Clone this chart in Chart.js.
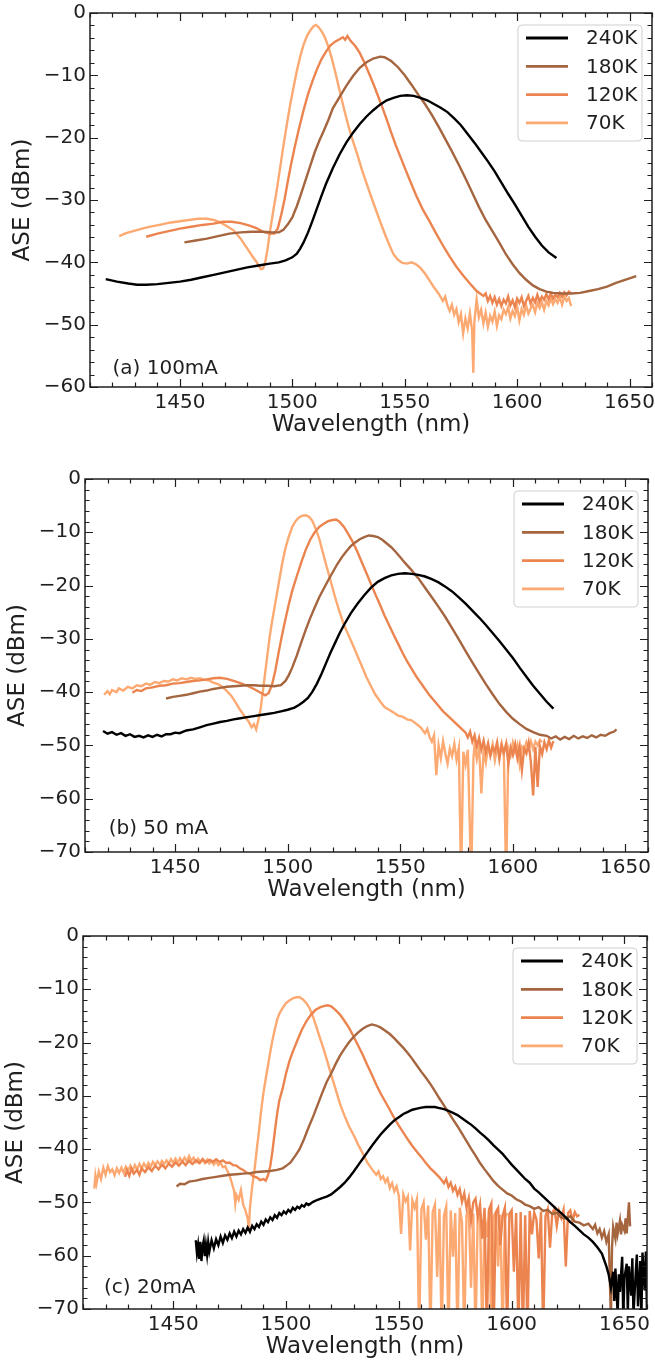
<!DOCTYPE html>
<html>
<head>
<meta charset="utf-8">
<script src="https://cdn.jsdelivr.net/npm/chart.js@4.4.1/dist/chart.umd.min.js"></script>
<style>
  html, body { margin: 0; padding: 0; background: #fff; }
  canvas { position: absolute; left: 0; }
</style>
</head>
<body>
<canvas id="panelA" width="655" height="455" style="top:0"></canvas>
<canvas id="panelB" width="655" height="455" style="top:455px"></canvas>
<canvas id="panelC" width="655" height="453" style="top:910px"></canvas>
<script>
// legend labels and line colours (240K .. 70K)
const temps = ['240K', '180K', '120K', '70K'];
const colors = ['#000000', '#a5653f', '#ec8450', '#fca972'];
const xTicks = [1450, 1500, 1550, 1600, 1650];

// [wavelength nm, ASE dBm]
// (a) 100 mA
const a240 = [[1417,-42.7],[1422,-43.1],[1427,-43.4],[1431,-43.6],[1435,-43.6],[1440,-43.5],[1445,-43.3],[1450,-43.1],[1455,-42.8],[1460,-42.4],[1465,-42.0],[1470,-41.6],[1475,-41.2],[1480,-40.8],[1485,-40.5],[1490,-40.2],[1494,-40.0],[1497,-39.7],[1500,-39.2],[1502,-38.6],[1503.5,-37.8],[1505,-36.8],[1507,-35.2],[1509,-33.3],[1511,-31.3],[1513,-29.3],[1515,-27.4],[1518,-24.9],[1521,-22.7],[1524,-20.8],[1527,-19.2],[1530,-17.8],[1533,-16.6],[1536,-15.6],[1539,-14.7],[1542,-14.0],[1545,-13.6],[1548,-13.3],[1551,-13.2],[1554,-13.3],[1557,-13.6],[1560,-14.0],[1563,-14.6],[1566,-15.2],[1569,-15.9],[1572,-16.9],[1575,-18.0],[1578,-19.4],[1581,-20.8],[1584,-22.3],[1587,-23.8],[1590,-25.4],[1593,-27.2],[1596,-29.0],[1599,-30.7],[1602,-32.5],[1605,-34.3],[1608,-35.9],[1611,-37.3],[1614,-38.4],[1617.5,-39.3]];
const a180 = [[1452,-36.8],[1457,-36.5],[1462,-36.2],[1467,-35.8],[1472,-35.4],[1477,-35.2],[1482,-35.1],[1487,-35.1],[1491,-35.2],[1494,-35.2],[1496,-34.8],[1498,-33.9],[1500,-32.8],[1502,-31.0],[1504,-28.9],[1506,-26.7],[1508,-24.5],[1510,-22.3],[1512,-20.5],[1514,-18.9],[1516,-17.2],[1518,-15.3],[1521,-13.5],[1524,-11.7],[1527,-10.1],[1530,-8.8],[1533,-7.9],[1536,-7.3],[1539,-7.0],[1541,-7.1],[1544,-7.7],[1547,-8.7],[1550,-10.0],[1553,-11.5],[1556,-13.1],[1559,-14.6],[1562,-16.3],[1565,-18.2],[1568,-20.2],[1571,-22.2],[1574,-24.3],[1577,-26.5],[1580,-28.8],[1583,-31.1],[1586,-33.2],[1589,-35.0],[1592,-36.8],[1595,-38.7],[1598,-40.3],[1601,-41.7],[1604,-42.8],[1607,-43.7],[1610,-44.3],[1613,-44.7],[1616,-44.9],[1620,-45.0],[1624,-45.0],[1628,-44.9],[1632,-44.6],[1636,-44.3],[1640,-43.9],[1644,-43.3],[1648,-42.8],[1653,-42.2]];
const a120 = [[1435,-35.9],[1440,-35.4],[1445,-35.0],[1450,-34.6],[1455,-34.3],[1460,-34.0],[1465,-33.8],[1469,-33.5],[1473,-33.5],[1477,-33.7],[1481,-34.1],[1484,-34.5],[1487,-35.1],[1490,-35.4],[1492,-35.4],[1493.5,-34.6],[1495,-32.5],[1496.5,-30.0],[1498,-27.0],[1499.5,-24.2],[1501,-21.6],[1503,-18.5],[1505,-15.6],[1507,-13.0],[1509,-10.9],[1511,-9.0],[1513,-7.4],[1515,-6.2],[1517,-5.2],[1519,-4.6],[1521,-4.2],[1522.5,-3.9],[1523.5,-4.3],[1524.5,-3.7],[1526,-4.5],[1528,-5.3],[1530,-6.4],[1532,-7.9],[1534,-9.6],[1536,-11.3],[1538,-13.2],[1540,-15.1],[1542,-17.1],[1544,-19.2],[1546,-21.2],[1548,-23.0],[1550,-24.8],[1552,-26.6],[1555,-29.2],[1558,-31.5],[1561,-33.4],[1564,-35.4],[1567,-37.3],[1570,-39.1],[1573,-40.7],[1576,-42.1],[1579,-43.4],[1582,-44.6],[1585,-45.4],[1586,-45.0],[1587,-46.2],[1588,-45.4],[1589,-46.5],[1590,-45.6],[1591,-46.8],[1592,-45.9],[1593,-47.0],[1594,-46.0],[1595,-46.6],[1596,-45.5],[1597,-46.9],[1598,-46.1],[1599,-47.2],[1600,-45.8],[1601,-46.5],[1602,-45.6],[1603,-47.0],[1604,-46.2],[1605,-45.4],[1606,-46.6],[1607,-45.7],[1608,-46.4],[1609,-45.2],[1610,-46.3],[1611,-45.5],[1612,-46.0],[1613,-45.1],[1614,-45.9],[1615,-45.0],[1616,-45.8],[1617,-45.2],[1618,-45.6],[1619,-44.9],[1620,-45.5],[1621,-44.8],[1622,-45.3],[1623,-44.7],[1624,-45.0]];
const a70 = [[1423,-35.8],[1426,-35.3],[1430,-34.9],[1434,-34.5],[1438,-34.2],[1442,-33.9],[1446,-33.6],[1450,-33.4],[1454,-33.2],[1458,-33.0],[1462,-33.0],[1465,-33.2],[1468,-33.6],[1471,-34.2],[1474,-34.9],[1477,-36.2],[1480,-37.8],[1482,-38.9],[1484,-39.9],[1486,-41.1],[1487,-41.0],[1488,-39.9],[1489,-37.8],[1490,-35.2],[1491.5,-31.8],[1493,-28.6],[1494.5,-25.0],[1496,-21.4],[1497.5,-18.0],[1499,-14.8],[1500.5,-12.0],[1502,-9.3],[1503.5,-7.0],[1505,-5.1],[1506.5,-3.7],[1508,-2.8],[1509.5,-2.1],[1510.5,-1.9],[1511.5,-2.2],[1513,-2.9],[1514.5,-3.9],[1516,-5.4],[1517.5,-7.2],[1519,-9.3],[1521,-12.4],[1523,-15.4],[1525,-18.2],[1527,-20.6],[1529,-22.8],[1531,-25.2],[1533,-27.3],[1535,-29.4],[1537,-31.4],[1539,-33.4],[1541,-35.3],[1543,-37.1],[1545,-38.7],[1547,-39.6],[1549,-40.1],[1551,-40.2],[1553,-40.0],[1555,-40.3],[1557,-40.9],[1559,-41.8],[1561,-42.9],[1563,-44.0],[1565,-45.0],[1567,-46.2],[1568,-45.5],[1569,-46.9],[1570,-47.8],[1571,-46.8],[1572,-48.4],[1573,-47.5],[1574,-49.6],[1575,-48.3],[1576,-51.4],[1577,-49.0],[1578,-50.6],[1579,-48.2],[1580,-51.0],[1580.5,-57.7],[1581,-49.5],[1582,-46.0],[1583,-48.8],[1584,-47.6],[1585,-49.8],[1586,-48.1],[1587,-50.3],[1588,-48.6],[1589,-49.5],[1590,-47.9],[1591,-50.2],[1592,-48.5],[1593,-49.1],[1594,-47.6],[1595,-48.3],[1596,-47.2],[1597,-49.0],[1598,-47.8],[1599,-48.6],[1600,-47.1],[1601,-49.3],[1602,-47.5],[1603,-48.4],[1604,-46.9],[1605,-48.2],[1606,-47.4],[1607,-46.8],[1608,-48.0],[1609,-46.5],[1610,-47.3],[1611,-46.4],[1612,-47.6],[1613,-46.2],[1614,-46.9],[1615,-45.8],[1616,-46.7],[1617,-45.9],[1618,-46.5],[1619,-45.6],[1620,-46.8],[1621,-45.5],[1622,-46.2],[1623,-45.7],[1624,-47.0]];

// (b) 50 mA
const b240 = [[1418,-47.3],[1420,-47.8],[1422,-47.5],[1424,-48.0],[1426,-47.7],[1428,-48.2],[1430,-47.9],[1432,-48.4],[1434,-48.2],[1436,-48.5],[1438,-48.1],[1440,-48.4],[1442,-48.0],[1444,-48.3],[1446,-47.9],[1448,-47.9],[1450,-47.6],[1452,-47.7],[1455,-47.2],[1458,-47.0],[1461,-46.6],[1464,-46.2],[1467,-45.9],[1470,-45.6],[1473,-45.4],[1476,-45.1],[1479,-44.9],[1482,-44.7],[1485,-44.5],[1488,-44.3],[1491,-44.1],[1494,-43.9],[1497,-43.6],[1500,-43.3],[1503,-42.9],[1505,-42.4],[1507,-41.8],[1509,-41.1],[1511,-39.9],[1513,-38.4],[1515,-36.6],[1517,-34.6],[1519,-32.6],[1521,-30.8],[1523,-29.0],[1525,-27.4],[1528,-25.2],[1531,-23.4],[1534,-21.8],[1537,-20.4],[1540,-19.3],[1543,-18.6],[1546,-18.1],[1549,-17.8],[1552,-17.7],[1555,-17.8],[1558,-18.0],[1561,-18.3],[1564,-18.8],[1567,-19.4],[1570,-20.2],[1573,-21.1],[1576,-22.2],[1579,-23.4],[1582,-24.7],[1585,-26.0],[1588,-27.4],[1591,-28.9],[1594,-30.4],[1597,-32.0],[1600,-33.6],[1603,-35.4],[1606,-37.1],[1609,-38.8],[1612,-40.3],[1615,-41.8],[1618,-43.1]];
const b180 = [[1446,-41.2],[1449,-40.9],[1452,-40.7],[1455,-40.5],[1458,-40.2],[1461,-39.9],[1464,-39.7],[1467,-39.4],[1470,-39.2],[1473,-39.0],[1476,-38.9],[1479,-38.8],[1482,-38.7],[1485,-38.7],[1488,-38.8],[1491,-38.8],[1494,-38.9],[1497,-38.7],[1499,-37.9],[1500.5,-36.8],[1502,-35.4],[1504,-33.2],[1506,-30.7],[1508,-28.3],[1510,-26.1],[1512,-24.1],[1514,-22.2],[1516,-20.6],[1518,-19.0],[1520,-17.5],[1522,-16.0],[1524,-14.7],[1526,-13.6],[1528,-12.6],[1530,-11.9],[1532,-11.3],[1534,-10.9],[1536,-10.6],[1538,-10.7],[1540,-10.9],[1542,-11.4],[1544,-12.1],[1546,-12.8],[1548,-13.7],[1550,-14.7],[1552,-15.7],[1555,-17.1],[1558,-18.6],[1561,-20.4],[1564,-22.2],[1567,-24.0],[1570,-25.9],[1573,-28.0],[1576,-30.1],[1579,-32.3],[1582,-34.4],[1585,-36.5],[1588,-38.5],[1591,-40.4],[1594,-42.2],[1597,-43.7],[1600,-45.0],[1603,-46.0],[1606,-46.9],[1609,-47.5],[1612,-48.0],[1615,-48.2],[1617,-48.7],[1619,-48.3],[1621,-48.9],[1623,-48.4],[1625,-48.8],[1627,-48.2],[1629,-48.7],[1631,-48.3],[1633,-48.6],[1635,-48.1],[1637,-48.5],[1639,-48.0],[1641,-48.2],[1643,-47.7],[1645,-47.4],[1646,-47.0]];
const b120 = [[1431,-40.1],[1433,-39.6],[1435,-39.8],[1437,-39.3],[1440,-39.1],[1443,-38.8],[1446,-38.7],[1449,-38.4],[1452,-38.3],[1455,-38.1],[1458,-37.9],[1461,-37.8],[1464,-37.6],[1467,-37.4],[1470,-37.3],[1473,-37.5],[1476,-37.9],[1479,-38.3],[1482,-38.8],[1485,-39.4],[1488,-40.1],[1490,-40.6],[1491.5,-40.2],[1493,-38.7],[1494.5,-36.0],[1496,-32.5],[1497.5,-29.3],[1499,-26.3],[1500.5,-23.5],[1502,-21.0],[1504,-18.3],[1506,-15.7],[1508,-13.3],[1510,-11.4],[1512,-10.0],[1514,-9.0],[1516,-8.4],[1518,-7.9],[1520,-7.7],[1521.5,-7.6],[1523,-8.0],[1525,-9.0],[1527,-10.4],[1529,-11.9],[1531,-13.7],[1533,-15.7],[1535,-17.7],[1537,-19.7],[1539,-21.7],[1541,-23.6],[1543,-25.6],[1545,-27.4],[1547,-29.2],[1549,-30.9],[1551,-32.6],[1553,-34.2],[1555,-35.6],[1557,-37.0],[1560,-38.8],[1563,-40.6],[1566,-42.1],[1569,-43.6],[1572,-44.8],[1575,-46.0],[1577,-46.8],[1579,-47.6],[1580,-48.5],[1581,-47.4],[1582,-49.3],[1583,-48.1],[1584,-50.2],[1585,-48.6],[1586,-50.8],[1587,-49.1],[1588,-51.3],[1589,-49.6],[1590,-52.0],[1591,-50.3],[1592,-51.1],[1593,-49.4],[1594,-52.6],[1595,-50.0],[1596,-51.4],[1597,-49.7],[1598,-53.5],[1599,-50.4],[1600,-51.8],[1601,-49.8],[1602,-52.4],[1603,-50.2],[1604,-54.6],[1605,-50.6],[1606,-51.5],[1607,-49.5],[1608,-53.2],[1609,-59.4],[1610,-50.3],[1611,-57.8],[1612,-50.1],[1613,-51.6],[1614,-49.4],[1615,-50.7],[1616,-49.0],[1617,-50.4],[1618,-49.2]];
const b70 = [[1418.5,-40.5],[1420,-39.8],[1421,-40.4],[1422,-39.6],[1424,-40.0],[1425,-39.3],[1427,-39.7],[1429,-39.0],[1431,-39.3],[1433,-38.7],[1435,-38.9],[1437,-38.4],[1439,-38.6],[1441,-38.1],[1443,-38.3],[1445,-37.9],[1447,-38.0],[1449,-37.6],[1451,-37.8],[1453,-37.4],[1455,-37.6],[1457,-37.3],[1459,-37.5],[1461,-37.4],[1463,-37.7],[1465,-37.8],[1467,-38.2],[1469,-38.5],[1471,-39.0],[1473,-39.8],[1475,-40.7],[1477,-42.0],[1479,-43.4],[1481,-44.6],[1482.5,-45.4],[1484,-46.6],[1485,-46.0],[1486,-47.0],[1487,-45.2],[1488,-43.1],[1489,-39.8],[1490,-36.4],[1491,-33.0],[1492,-29.6],[1493,-26.9],[1494.5,-23.3],[1496,-19.6],[1497.5,-16.0],[1499,-13.0],[1500.5,-10.8],[1502,-9.0],[1503.5,-7.9],[1505,-7.2],[1506.5,-6.9],[1508,-6.8],[1509.5,-7.1],[1511,-7.9],[1512.5,-9.4],[1514,-11.2],[1515.5,-13.6],[1517,-16.0],[1519,-19.0],[1521,-22.1],[1523,-24.9],[1525,-27.4],[1527,-29.3],[1529,-31.2],[1531,-33.2],[1533,-35.2],[1535,-37.2],[1537,-38.9],[1539,-40.5],[1541,-41.7],[1543,-42.8],[1545,-43.3],[1547,-43.8],[1549,-44.4],[1551,-44.6],[1553,-45.1],[1555,-45.3],[1557,-45.9],[1559,-46.6],[1561,-47.7],[1562,-46.9],[1563,-48.4],[1564,-49.3],[1565,-48.1],[1566,-55.6],[1567,-50.0],[1568,-52.4],[1569,-49.2],[1570,-51.5],[1571,-53.4],[1572,-50.6],[1573,-52.0],[1574,-49.7],[1575,-52.7],[1576,-50.5],[1577,-75],[1578,-51.2],[1579,-53.6],[1580,-50.8],[1581.5,-75],[1582.5,-52.3],[1583,-49.9],[1584,-52.6],[1585,-50.4],[1586,-59.0],[1587,-51.1],[1588,-53.2],[1589,-50.2],[1590,-51.6],[1591,-49.8],[1592,-52.8],[1593,-50.5],[1594,-51.4],[1595,-49.6],[1596,-52.0],[1597,-75],[1598,-50.6],[1599,-51.9],[1600,-49.5],[1601,-51.2],[1602,-49.9],[1603,-53.4],[1604,-50.3],[1605,-50.9],[1606,-49.4],[1607,-50.6],[1608,-49.2],[1609,-50.7],[1610,-49.3],[1611,-50.0],[1612,-49.0],[1613,-49.4]];

// (c) 20 mA
const c240 = [[1460,-57.1],[1460.5,-59.5],[1461,-58.0],[1461.5,-60.6],[1462,-57.4],[1462.5,-61.0],[1463,-58.3],[1463.5,-57.2],[1464,-60.1],[1464.5,-58.0],[1465,-59.8],[1465.5,-57.5],[1466,-59.2],[1467,-57.1],[1468,-58.6],[1469,-56.9],[1470,-58.0],[1471,-56.4],[1472,-57.6],[1473,-56.2],[1474,-57.0],[1475,-55.8],[1476,-56.7],[1477,-55.5],[1478,-56.4],[1479,-55.3],[1480,-56.0],[1481,-55.0],[1482,-55.7],[1483,-54.7],[1484,-55.5],[1485,-54.4],[1486,-55.0],[1487,-54.1],[1488,-54.6],[1489,-53.6],[1490,-54.2],[1491,-53.2],[1492,-53.7],[1493,-52.8],[1494,-53.3],[1495,-52.4],[1496,-52.9],[1497,-52.0],[1498,-52.4],[1499,-51.7],[1500,-52.1],[1501,-51.4],[1502,-51.8],[1503,-51.0],[1504,-51.4],[1505,-50.8],[1506,-51.1],[1507,-50.5],[1508,-50.8],[1509,-50.2],[1510,-50.5],[1512,-49.9],[1514,-49.5],[1516,-49.2],[1518,-48.9],[1520,-48.5],[1522,-47.8],[1524,-47.1],[1526,-46.3],[1528,-45.3],[1530,-44.2],[1532,-43.0],[1534,-41.8],[1536,-40.6],[1538,-39.4],[1540,-38.3],[1542,-37.2],[1544,-36.3],[1546,-35.4],[1548,-34.6],[1550,-34.0],[1552,-33.4],[1554,-33.0],[1556,-32.6],[1558,-32.4],[1560,-32.2],[1562,-32.1],[1564,-32.1],[1566,-32.1],[1568,-32.3],[1570,-32.5],[1572,-32.8],[1574,-33.2],[1576,-33.6],[1578,-34.2],[1580,-34.8],[1582,-35.4],[1584,-36.1],[1586,-36.9],[1588,-37.6],[1590,-38.4],[1592,-39.3],[1594,-40.1],[1596,-40.9],[1598,-41.9],[1600,-42.9],[1602,-43.8],[1604,-44.7],[1606,-45.6],[1608,-46.3],[1610,-47.4],[1612,-48.1],[1614,-48.9],[1616,-49.7],[1618,-50.5],[1620,-51.3],[1622,-52.0],[1624,-52.8],[1626,-53.7],[1628,-54.4],[1630,-55.2],[1632,-56.0],[1634,-56.6],[1636,-57.4],[1638,-58.4],[1640,-59.6],[1641,-60.8],[1642,-62.0],[1643,-63.5],[1644,-66.0],[1645,-63.0],[1645.5,-68.5],[1646,-62.4],[1647,-71],[1647.5,-63.5],[1648,-66.8],[1649,-60.2],[1649.5,-72],[1650,-64.1],[1651,-61.5],[1651.5,-70.5],[1652,-62.0],[1653,-67.5],[1653.5,-60.5],[1654,-71],[1655,-63.2],[1655.5,-59.8],[1656,-69.5],[1657,-61.0],[1657.5,-72],[1658,-59.4],[1659,-66.5],[1659.5,-59.2],[1660,-71]];
const c180 = [[1451.5,-47.0],[1453,-46.5],[1455,-46.6],[1457,-46.1],[1460,-45.9],[1463,-45.6],[1466,-45.4],[1469,-45.2],[1472,-45.0],[1475,-44.8],[1478,-44.7],[1481,-44.6],[1484,-44.5],[1487,-44.3],[1490,-44.2],[1493,-44.1],[1496,-43.9],[1498.5,-43.6],[1500.5,-43.0],[1502,-42.5],[1504,-41.3],[1506,-40.0],[1508,-38.1],[1510,-35.9],[1512,-33.9],[1514,-31.7],[1516,-29.5],[1518,-27.4],[1520,-25.8],[1522,-24.0],[1524,-22.4],[1526,-21.1],[1528,-19.9],[1530,-18.9],[1532,-18.1],[1534,-17.4],[1536,-16.9],[1538,-16.6],[1540,-16.8],[1542,-17.2],[1544,-17.8],[1546,-18.4],[1548,-19.2],[1550,-20.1],[1552,-21.0],[1554,-22.0],[1556,-23.1],[1558,-24.3],[1560,-25.5],[1562,-26.6],[1564,-27.8],[1566,-29.1],[1568,-30.5],[1570,-31.8],[1572,-33.1],[1574,-34.4],[1576,-35.7],[1578,-37.1],[1580,-38.5],[1582,-39.9],[1584,-41.2],[1586,-42.6],[1588,-43.8],[1590,-44.9],[1592,-46.0],[1594,-46.9],[1596,-47.6],[1598,-48.3],[1600,-48.7],[1602,-49.4],[1604,-49.8],[1606,-50.4],[1608,-50.7],[1610,-51.2],[1612,-50.9],[1614,-51.6],[1616,-51.4],[1618,-52.2],[1620,-51.9],[1622,-52.8],[1624,-53.0],[1626,-52.6],[1628,-53.6],[1630,-53.8],[1632,-54.3],[1634,-54.0],[1636,-55.0],[1637,-54.2],[1638,-55.8],[1639,-55.0],[1640,-56.6],[1641,-55.4],[1642,-57.4],[1643,-56.0],[1643.5,-64],[1644,-72],[1644.5,-58.5],[1645,-54.6],[1646,-56.8],[1646.5,-53.8],[1647,-55.9],[1648,-53.4],[1648.5,-56.0],[1649,-54.2],[1650,-55.3],[1650.5,-53.0],[1651,-55.8],[1652,-50.0],[1652.5,-54.5]];
const c120 = [[1428.6,-45.2],[1429.5,-44.0],[1430.5,-45.0],[1431.5,-43.7],[1432.5,-44.6],[1434,-43.9],[1435,-44.8],[1436,-43.6],[1437.5,-44.3],[1439,-43.4],[1440.5,-44.1],[1442,-43.1],[1443.5,-43.8],[1445,-42.9],[1446.5,-43.6],[1448,-42.7],[1449.5,-43.3],[1451,-42.5],[1452.5,-43.1],[1454,-42.3],[1455.5,-43.0],[1457,-42.2],[1458.5,-42.8],[1460,-42.1],[1461.5,-42.6],[1463,-41.9],[1464.5,-42.5],[1466,-42.0],[1467.5,-42.4],[1469,-41.9],[1470.5,-42.4],[1472,-42.1],[1473.5,-42.6],[1475,-42.5],[1476.5,-43.0],[1478,-43.1],[1479.5,-43.6],[1481,-43.9],[1482.5,-44.4],[1484,-44.6],[1485.5,-45.1],[1487,-45.3],[1488.5,-45.8],[1490,-45.6],[1491,-45.9],[1492,-44.9],[1493,-43.2],[1494,-40.3],[1495,-36.8],[1496,-33.5],[1497,-30.9],[1498.5,-28.6],[1500,-25.8],[1501.5,-23.5],[1503,-21.7],[1505,-19.6],[1507,-17.6],[1509,-16.0],[1511,-14.8],[1513,-13.9],[1515,-13.4],[1517,-13.1],[1518.5,-13.0],[1520,-13.2],[1522,-13.9],[1524,-14.8],[1526,-16.0],[1528,-17.3],[1530,-18.9],[1532,-20.6],[1534,-22.3],[1536,-24.2],[1538,-26.0],[1540,-27.9],[1542,-29.6],[1544,-31.1],[1546,-32.6],[1548,-34.2],[1550,-35.6],[1552,-36.9],[1554,-38.2],[1556,-39.4],[1558,-40.5],[1560,-41.5],[1562,-42.6],[1564,-43.6],[1566,-44.4],[1568,-45.3],[1570,-46.4],[1571,-45.6],[1572,-47.1],[1573,-46.3],[1574,-47.8],[1575,-47.0],[1576,-48.6],[1577,-47.5],[1578,-49.9],[1579,-48.3],[1580,-51.0],[1581,-49.2],[1582,-53.4],[1583,-50.0],[1584,-49.3],[1585,-52.7],[1586,-50.4],[1587,-56.8],[1588,-51.0],[1589,-75],[1590,-51.3],[1591,-50.2],[1592,-75],[1593,-52.0],[1594,-51.1],[1595,-58.0],[1596,-52.5],[1597,-51.0],[1598,-75],[1599,-52.2],[1600,-51.5],[1601,-63.0],[1602,-52.0],[1603,-75],[1604,-51.8],[1605,-75],[1606,-52.4],[1607,-75],[1608,-51.6],[1609,-56.0],[1610,-51.9],[1611,-53.2],[1612,-60.5],[1613,-51.7],[1614,-75],[1615,-52.6],[1616,-51.3],[1617,-58.5],[1618,-52.0],[1619,-51.2],[1620,-54.4],[1621,-51.6],[1622,-52.9],[1623,-51.4],[1624,-62.0],[1625,-52.0],[1626,-51.5],[1627,-53.5],[1628,-51.8],[1629,-52.6],[1630,-52.3]];
const c70 = [[1415,-47.4],[1415.5,-45.0],[1416,-46.4],[1417,-44.2],[1418,-45.6],[1419,-43.5],[1420,-44.8],[1421,-43.2],[1422,-44.3],[1423,-43.8],[1424,-44.9],[1425,-43.6],[1426,-44.5],[1427,-43.5],[1428,-44.4],[1429,-43.3],[1430,-44.0],[1431,-43.1],[1432,-44.1],[1433,-43.0],[1434,-43.8],[1435,-42.8],[1436,-43.6],[1437,-42.7],[1438,-43.4],[1439,-42.6],[1440,-43.3],[1441,-42.4],[1442,-43.0],[1443,-42.3],[1444,-42.9],[1445,-42.2],[1446,-42.8],[1447,-42.1],[1448,-42.7],[1449,-41.9],[1450,-42.6],[1451,-41.8],[1452,-42.5],[1453,-41.7],[1454,-42.4],[1455,-41.6],[1456,-42.3],[1457,-41.3],[1458,-42.2],[1459,-41.6],[1460,-42.4],[1461,-41.8],[1462,-42.5],[1463,-41.9],[1464,-42.6],[1465,-42.0],[1466,-42.7],[1467,-42.2],[1468,-42.9],[1469,-42.3],[1470,-43.0],[1471,-42.6],[1472,-43.4],[1473,-43.2],[1474,-44.1],[1475,-45.0],[1476,-46.4],[1477,-47.9],[1477.5,-50.2],[1478,-48.6],[1479,-49.5],[1480,-47.7],[1481,-50.4],[1482,-51.5],[1483,-53.0],[1483.5,-55.2],[1484,-51.0],[1485,-47.0],[1486,-44.0],[1487,-40.2],[1488,-36.6],[1489,-32.7],[1490,-29.4],[1491,-26.8],[1492,-24.3],[1493,-21.8],[1494,-19.5],[1495,-17.6],[1496,-15.8],[1497,-14.6],[1498.5,-13.5],[1500,-12.6],[1501.5,-12.1],[1503,-11.7],[1504.5,-11.5],[1506,-11.5],[1507.5,-11.9],[1509,-12.6],[1510.5,-13.6],[1512,-15.2],[1513.5,-17.1],[1515,-19.1],[1516.5,-21.0],[1518,-23.1],[1520,-26.0],[1522,-28.8],[1524,-31.6],[1526,-33.8],[1528,-35.8],[1530,-37.4],[1532,-39.2],[1534,-40.8],[1536,-42.5],[1538,-43.7],[1540,-44.8],[1541,-44.2],[1542,-45.6],[1543,-45.1],[1544,-46.2],[1545,-45.5],[1546,-47.3],[1547,-46.4],[1548,-47.9],[1549,-47.0],[1550,-48.8],[1551,-55.9],[1552,-48.5],[1553,-49.8],[1554,-48.9],[1555,-59.0],[1556,-49.6],[1557,-51.0],[1558,-49.4],[1559,-75],[1560,-51.3],[1561,-50.0],[1562,-57.0],[1563,-50.6],[1564,-75],[1565,-51.8],[1566,-50.4],[1567,-64.0],[1568,-51.2],[1569,-75],[1570,-52.5],[1571,-50.8],[1572,-75],[1573,-51.5],[1574,-60.2],[1575,-52.0],[1576,-75],[1577,-51.0],[1578,-53.8],[1579,-75],[1580,-52.4],[1581,-51.3],[1582,-66.0],[1583,-52.1],[1584,-75],[1585,-51.6],[1586,-52.9],[1587,-75],[1588,-52.0],[1589,-56.5],[1590,-51.4],[1591,-75],[1592,-52.6],[1593,-51.8],[1594,-62.0],[1595,-52.3],[1596,-75],[1597,-53.0],[1598,-52.0]];

const INK = '#1f1f1f';
const FONT = 'DejaVu Sans';

// frame with inward major/minor ticks on all sides, panel note and legend box
const aseFrame = {
  id: 'aseFrame',
  afterDatasetsDraw(chart, args, opts) {
    const {ctx, chartArea: a, scales: {x, y}} = chart;
    ctx.save();
    ctx.strokeStyle = INK;
    ctx.lineWidth = 1.2;
    ctx.beginPath();
    for (let v = Math.ceil(x.min / 10) * 10; v <= x.max; v += 10) {
      const p = Math.round(x.getPixelForValue(v)) + 0.5;
      const len = v % 50 === 0 ? 8 : 4.5;
      ctx.moveTo(p, a.bottom); ctx.lineTo(p, a.bottom - len);
      ctx.moveTo(p, a.top); ctx.lineTo(p, a.top + len);
    }
    for (let v = y.min; v <= y.max; v += 2) {
      const p = Math.round(y.getPixelForValue(v)) + 0.5;
      const len = v % 10 === 0 ? 8 : 4.5;
      ctx.moveTo(a.left, p); ctx.lineTo(a.left + len, p);
      ctx.moveTo(a.right, p); ctx.lineTo(a.right - len, p);
    }
    ctx.stroke();
    ctx.lineWidth = 1.5;
    ctx.strokeRect(a.left, a.top, a.right - a.left, a.bottom - a.top);

    // panel note, e.g. "(a) 100mA"
    ctx.fillStyle = INK;
    ctx.font = '20px "' + FONT + '"';
    ctx.textAlign = 'left';
    ctx.textBaseline = 'middle';
    ctx.fillText(opts.note.text, x.getPixelForValue(opts.note.x), y.getPixelForValue(opts.note.y));

    // legend in upper right
    const bw = 124, bh = 116;
    const bx = a.right - 10 - bw, by = a.top + 12;
    ctx.beginPath();
    ctx.roundRect(bx, by, bw, bh, 4);
    ctx.fillStyle = 'rgba(255,255,255,0.85)';
    ctx.fill();
    ctx.strokeStyle = '#cfcfcf';
    ctx.lineWidth = 1;
    ctx.stroke();
    chart.data.datasets.forEach((ds, i) => {
      const ry = by + 13 + i * 28.3;
      ctx.beginPath();
      ctx.moveTo(bx + 8, ry);
      ctx.lineTo(bx + 50, ry);
      ctx.strokeStyle = ds.borderColor;
      ctx.lineWidth = 2.8;
      ctx.stroke();
      ctx.fillStyle = INK;
      ctx.fillText(ds.label, bx + 68, ry + 1);
    });
    ctx.restore();
  }
};

const minusFmt = v => (v < 0 ? '\u2212' + Math.abs(v) : String(v));

function panelChart(id, series, ymin, pad, note) {
  return new Chart(document.getElementById(id), {
    type: 'line',
    data: {
      datasets: series.map((pts, i) => ({
        label: temps[i],
        data: pts.map(([x, y]) => ({x, y})),
        borderColor: colors[i],
        borderWidth: 2.4,
        pointRadius: 0,
        tension: 0,
        fill: false
      }))
    },
    options: {
      responsive: false,
      animation: false,
      devicePixelRatio: 1,
      layout: { padding: pad },
      plugins: {
        legend: { display: false },
        tooltip: { enabled: false },
        aseFrame: { note: note }
      },
      scales: {
        x: {
          type: 'linear',
          min: 1410,
          max: 1660,
          afterBuildTicks: s => { s.ticks = xTicks.map(v => ({ value: v })); },
          afterFit: s => { s.height = 50; s.paddingLeft = 0; s.paddingRight = 0; },
          grid: { display: false, drawTicks: false },
          border: { display: false },
          ticks: { padding: 4, color: INK, font: { family: FONT, size: 20 }, callback: v => String(v) },
          title: { display: true, text: 'Wavelength (nm)', color: INK, font: { family: FONT, size: 23, lineHeight: 1 }, padding: { top: 0, bottom: 0.5 } }
        },
        y: {
          type: 'linear',
          min: ymin,
          max: 0,
          afterFit: s => { s.width = 80; s.paddingTop = 0; s.paddingBottom = 0; },
          grid: { display: false, drawTicks: false },
          border: { display: false },
          ticks: { stepSize: 10, padding: 4, color: INK, font: { family: FONT, size: 20 }, callback: minusFmt },
          title: { display: true, text: 'ASE (dBm)', color: INK, font: { family: FONT, size: 23, lineHeight: 1 }, padding: { top: 1.5, bottom: 0 } }
        }
      }
    },
    plugins: [aseFrame]
  });
}

window.addEventListener('DOMContentLoaded', () => {
  panelChart('panelA', [a240, a180, a120, a70], -60,
    { left: 10, top: 13, right: 3, bottom: 18 },
    { text: '(a) 100mA', x: 1420, y: -57 });
  panelChart('panelB', [b240, b180, b120, b70], -70,
    { left: 5, top: 24, right: 7, bottom: 8 },
    { text: '(b) 50 mA', x: 1420.5, y: -65.7 });
  panelChart('panelC', [c240, c180, c120, c70], -70,
    { left: 3, top: 26, right: 8, bottom: 4 },
    { text: '(c) 20mA', x: 1419.3, y: -66.1 });
});
</script>
</body>
</html>
